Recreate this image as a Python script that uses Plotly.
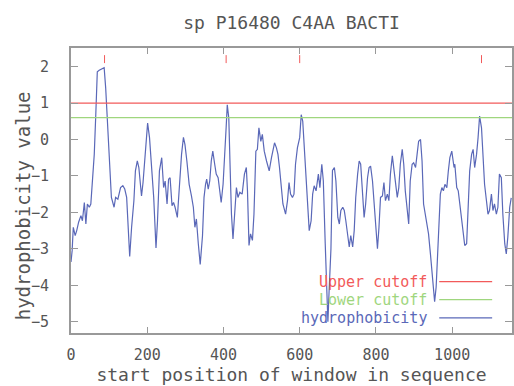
import plotly.graph_objects as go

title_text = "sp P16480 C4AA BACTI"
x_title = "start position of window in sequence"
y_title = "hydrophobicity value"

positions = [0, 3, 6, 11, 15, 20, 26, 30, 35, 39, 43, 48, 52, 56, 61, 65, 69, 74, 82, 87,
             91, 95, 100, 106, 113, 117, 123, 130, 136, 141, 146, 150, 154, 159, 165, 169, 174, 178, 185, 189,
             195, 201, 206, 211, 217, 223, 227, 232, 238, 243, 247, 252, 256, 260, 265, 269, 273, 279, 284, 290,
             295, 299, 304, 310, 316, 321, 325, 329, 334, 339, 345, 349, 353, 356, 360, 364, 368, 372, 377, 381,
             386, 391, 394, 399, 403, 407, 410, 414, 417, 421, 425, 430, 434, 438, 443, 449, 455, 460, 463, 467,
             471, 476, 480, 485, 489, 493, 498, 502, 507, 513, 520, 526, 530, 534, 539, 543, 547, 552, 556, 563,
             568, 572, 576, 581, 585, 589, 594, 600, 604, 608, 612, 617, 621, 625, 630, 634, 638, 643, 649, 653,
             658, 662, 667, 671, 674, 677, 682, 686, 691, 695, 700, 704, 708, 713, 717, 721, 726, 730, 734, 739,
             743, 747, 752, 756, 760, 765, 769, 773, 778, 782, 786, 791, 795, 799, 804, 808, 812, 817, 821, 825,
             830, 834, 838, 843, 847, 851, 856, 860, 864, 869, 873, 877, 882, 886, 890, 895, 899, 904, 908, 912,
             917, 921, 925, 930, 934, 938, 943, 947, 951, 954, 958, 962, 966, 969, 973, 977, 981, 986, 990, 994,
             999, 1001, 1005, 1007, 1012, 1016, 1020, 1025, 1029, 1033, 1038, 1042, 1046, 1051, 1055, 1059, 1064, 1068, 1072, 1077,
             1081, 1085, 1090, 1094, 1098, 1103, 1107, 1111, 1116, 1120, 1124, 1129, 1133, 1138, 1142, 1146, 1151, 1155]

hydrophobicity = [-3.36, -3.05, -2.41, -2.64, -2.50, -2.27, -2.09, -2.23, -1.73, -2.32, -1.77, -1.86, -1.77, -1.14, -0.41, 0.68, 1.86, 1.90, 1.94, 1.97,
                  1.41, 0.50, -0.59, -1.59, -1.86, -1.59, -1.64, -1.32, -1.27, -1.36, -1.59, -2.50, -3.21, -2.41, -1.68, -0.86, -0.59, -0.77, -1.55, -1.18,
                  -0.32, 0.45, 0.05, -0.77, -1.59, -2.98, -2.23, -0.86, -0.50, -1.32, -1.14, -1.77, -1.09, -1.05, -1.82, -1.73, -1.86, -2.14, -1.32, -0.41,
                  0.06, -0.14, -0.59, -1.23, -1.55, -1.86, -2.41, -2.18, -2.86, -3.43, -2.64, -1.59, -1.23, -1.09, -1.36, -1.14, -0.59, -0.32, -0.68, -0.95,
                  -1.05, -1.41, -1.73, -1.23, -0.59, 0.32, 0.95, 0.59, -0.59, -2.05, -2.73, -1.95, -1.32, -1.59, -1.45, -1.50, -0.95, -0.77, -1.41, -2.91,
                  -2.59, -2.77, -2.05, -0.32, -0.27, 0.32, -0.05, 0.14, -0.32, -0.59, -0.86, -0.50, -0.32, -0.09, -0.23, -0.41, -0.77, -1.32, -1.77, -2.05,
                  -1.68, -1.18, -1.50, -1.59, -1.50, -0.68, -0.23, 0.05, 0.68, 0.50, -0.23, -1.05, -1.86, -2.50, -2.23, -1.50, -1.27, -1.41, -0.95, -1.32,
                  -0.68, -1.14, -2.86, -4.05, -5.00, -4.20, -3.00, -0.85, -0.77, -1.14, -2.14, -2.32, -1.95, -1.86, -1.95, -2.23, -2.59, -2.95, -2.64, -2.95,
                  -2.50, -1.59, -0.95, -0.59, -0.68, -1.50, -2.14, -1.77, -1.05, -0.77, -0.73, -1.14, -1.77, -2.50, -3.00, -2.41, -1.59, -1.55, -1.18, -1.68,
                  -1.50, -1.68, -0.95, -0.45, -0.86, -1.23, -1.59, -1.32, -0.68, -0.27, -0.68, -1.41, -1.86, -2.32, -1.14, -0.68, -0.64, -0.77, -0.41, -0.05,
                  0.00, -0.59, -1.77, -2.14, -2.32, -2.59, -3.14, -3.68, -4.23, -4.45, -4.05, -3.14, -2.23, -1.50, -1.32, -1.41, -1.23, -1.32, -0.86, -0.50,
                  -0.32, -0.50, -0.77, -0.68, -1.32, -1.41, -1.77, -2.14, -2.59, -2.91, -2.86, -2.05, -0.86, -0.41, -0.27, -0.77, -0.41, 0.05, 0.64, 0.32,
                  -0.68, -1.23, -1.68, -2.05, -1.95, -1.50, -1.95, -1.77, -2.05, -1.86, -0.95, -1.05, -2.05, -2.86, -3.14, -2.68, -1.86, -1.60]

upper_cutoff = 1.0
lower_cutoff = 0.6
peak_positions = [88, 407, 600, 1077]

x_ticks = [0, 200, 400, 600, 800, 1000]
y_ticks = [-5, -4, -3, -2, -1, 0, 1, 2]
x_range = [0, 1157]
y_range = [-5.31, 2.51]

RED = "#f25a5a"
GREEN = "#9fd67e"
BLUE = "#5a68b8"
GRAY = "#999999"
TEXT = "#555555"
FONT = "DejaVu Sans Mono"

fig = go.Figure()
fig.add_trace(go.Scatter(x=x_range, y=[upper_cutoff, upper_cutoff], mode="lines", yaxis="y2",
                         line=dict(color=RED, width=1.2), hoverinfo="skip", showlegend=False))
fig.add_trace(go.Scatter(x=x_range, y=[lower_cutoff, lower_cutoff], mode="lines", yaxis="y2",
                         line=dict(color=GREEN, width=1.2), hoverinfo="skip", showlegend=False))
fig.add_trace(go.Scatter(x=positions, y=hydrophobicity, mode="lines",
                         line=dict(color=BLUE, width=1.2), showlegend=False))

shapes = []
for p in peak_positions:
    shapes.append(dict(type="line", xref="x", yref="paper", x0=p, x1=p, y0=0.947, y1=0.975,
                       line=dict(color=RED, width=1)))

legend_items = [("Upper cutoff", RED, 0.180), ("Lower cutoff", GREEN, 0.117), ("hydrophobicity", BLUE, 0.053)]
annotations = []
for label, col, yy in legend_items:
    annotations.append(dict(text=label, xref="paper", yref="paper", x=0.812, y=yy,
                            xanchor="right", yanchor="middle", showarrow=False,
                            font=dict(family=FONT, size=15, color=col)))
    shapes.append(dict(type="line", xref="paper", yref="paper", x0=0.835, x1=0.955, y0=yy, y1=yy,
                       line=dict(color=col, width=1.2)))

annotations.append(dict(text=y_title, xref="paper", yref="paper", x=-0.108, y=0.446,
                        xanchor="center", yanchor="middle", textangle=-90, showarrow=False,
                        font=dict(family=FONT, size=19, color=TEXT)))

fig.update_layout(
    width=514, height=386,
    margin=dict(l=71, r=0, t=48, b=53),
    paper_bgcolor="white", plot_bgcolor="white",
    title=dict(text=title_text, xref="paper", x=0.5, xanchor="center", y=1 - 22.5 / 386, yanchor="middle",
               font=dict(family=FONT, size=18, color=TEXT)),
    shapes=shapes, annotations=annotations,
    xaxis=dict(range=x_range, tickvals=x_ticks, ticks="inside", ticklen=6, tickcolor=GRAY,
               showline=True, linecolor=GRAY, linewidth=1.5, mirror="ticks", showgrid=False, zeroline=False,
               tickfont=dict(family=FONT, size=15, color=TEXT), ticklabelstandoff=7,
               title=dict(text=x_title, font=dict(family=FONT, size=18, color=TEXT), standoff=4)),
    yaxis=dict(range=y_range, tickvals=y_ticks, ticks="outside", ticklen=18, tickcolor="rgba(255,255,255,0)",
               showline=False, showgrid=False, zeroline=False, automargin=False,
               tickfont=dict(family=FONT, size=15, color=TEXT)),
    yaxis2=dict(range=y_range, overlaying="y", side="left", tickvals=y_ticks,
                ticks="inside", ticklen=7, tickcolor=GRAY, showticklabels=False,
                showline=True, linecolor=GRAY, linewidth=1.5, mirror="ticks", showgrid=False, zeroline=False),
)

fig.write_html("out.html")
